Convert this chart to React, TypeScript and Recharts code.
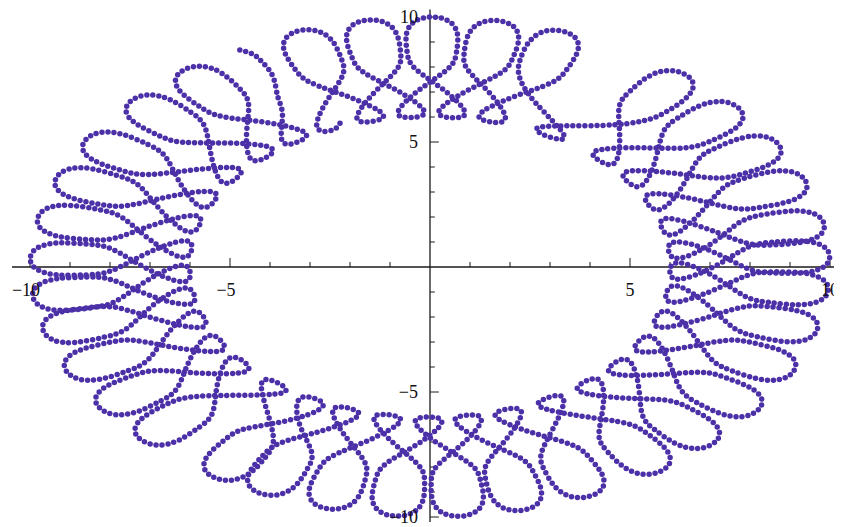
import React from 'react';
import { LineChart, Line, XAxis, YAxis, ReferenceLine, ReferenceDot } from 'recharts';

// Sampled curve, stored in polar form: angle in degrees (measured continuously
// along the path, so it can exceed 360) and distance from the origin.
// One row per outer loop; the first row is the open end near the top left.
const pathAngle = [
  118.7, 117.5, 117.1, 117.3, 119.2, 121.3, 126.25, 123.25, 120.25,
  125.4, 130.8, 131.9, 131.7, 130.2, 127.8, 125.4, 123.9, 123.7, 124.8, 130.2, 135.95, 132.95, 129.95,
  135.7, 141.1, 142.2, 142.0, 140.5, 138.1, 135.7, 134.2, 134.0, 135.1, 140.5, 146.7, 143.7, 140.7,
  146.9, 152.3, 153.4, 153.2, 151.7, 149.3, 146.9, 145.4, 145.2, 146.3, 151.7, 157.15, 154.15, 151.15,
  156.6, 162.0, 163.1, 162.9, 161.4, 159.0, 156.6, 155.1, 154.9, 156.0, 161.4, 166.8, 163.8, 160.8,
  166.2, 171.6, 172.7, 172.5, 171.0, 168.6, 166.2, 164.7, 164.5, 165.6, 171.0, 176.3, 173.3, 170.3,
  175.6, 181.0, 182.1, 181.9, 180.4, 178.0, 175.6, 174.1, 173.9, 175.0, 180.4, 185.4, 182.4, 179.4,
  184.4, 189.8, 190.9, 190.7, 189.2, 186.8, 184.4, 182.9, 182.7, 183.8, 189.2, 193.85, 190.85, 187.85,
  192.5, 197.9, 199.0, 198.8, 197.3, 194.9, 192.5, 191.0, 190.8, 191.9, 197.3, 202.8, 199.8, 196.8,
  202.3, 207.7, 208.8, 208.6, 207.1, 204.7, 202.3, 200.8, 200.6, 201.7, 207.1, 212.55, 209.55, 206.55,
  212.0, 217.4, 218.5, 218.3, 216.8, 214.4, 212.0, 210.5, 210.3, 211.4, 216.8, 222.15, 219.15, 216.15,
  221.5, 226.9, 228.0, 227.8, 226.3, 223.9, 221.5, 220.0, 219.8, 220.9, 226.3, 233.7, 230.7, 227.7,
  235.1, 240.5, 241.6, 241.4, 239.9, 237.5, 235.1, 233.6, 233.4, 234.5, 239.9, 244.3, 241.3, 238.3,
  242.7, 248.1, 249.2, 249.0, 247.5, 245.1, 242.7, 241.2, 241.0, 242.1, 247.5, 253.1, 250.1, 247.1,
  252.7, 258.1, 259.2, 259.0, 257.5, 255.1, 252.7, 251.2, 251.0, 252.1, 257.5, 263.05, 260.05, 257.05,
  262.6, 268.0, 269.1, 268.9, 267.4, 265.0, 262.6, 261.1, 260.9, 262.0, 267.4, 272.65, 269.65, 266.65,
  271.9, 277.3, 278.4, 278.2, 276.7, 274.3, 271.9, 270.4, 270.2, 271.3, 276.7, 281.85, 278.85, 275.85,
  281.0, 286.4, 287.5, 287.3, 285.8, 283.4, 281.0, 279.5, 279.3, 280.4, 285.8, 291.45, 288.45, 285.45,
  291.1, 296.5, 297.6, 297.4, 295.9, 293.5, 291.1, 289.6, 289.4, 290.5, 295.9, 302.3, 299.3, 296.3,
  302.7, 308.1, 309.2, 309.0, 307.5, 305.1, 302.7, 301.2, 301.0, 302.1, 307.5, 313.0, 310.0, 307.0,
  312.5, 317.9, 319.0, 318.8, 317.3, 314.9, 312.5, 311.0, 310.8, 311.9, 317.3, 322.95, 319.95, 316.95,
  322.6, 328.0, 329.1, 328.9, 327.4, 325.0, 322.6, 321.1, 320.9, 322.0, 327.4, 333.15, 330.15, 327.15,
  332.9, 338.3, 339.4, 339.2, 337.7, 335.3, 332.9, 331.4, 331.2, 332.3, 337.7, 343.3, 340.3, 337.3,
  342.9, 348.3, 349.4, 349.2, 347.7, 345.3, 342.9, 341.4, 341.2, 342.3, 347.7, 352.95, 349.95, 346.95,
  352.2, 357.6, 358.7, 358.5, 357.0, 354.6, 352.2, 350.7, 350.5, 351.6, 357.0, 361.55, 358.55, 355.55,
  360.1, 365.5, 366.6, 366.4, 364.9, 362.5, 360.1, 358.6, 358.4, 359.5, 364.9, 369.25, 366.25, 363.25,
  367.6, 373.0, 374.1, 373.9, 372.4, 370.0, 367.6, 366.1, 365.9, 367.0, 372.4, 378.1, 375.1, 372.1,
  377.8, 383.2, 384.3, 384.1, 382.6, 380.2, 377.8, 376.3, 376.1, 377.2, 382.6, 387.9, 384.9, 381.9,
  387.2, 392.6, 393.7, 393.5, 392.0, 389.6, 387.2, 385.7, 385.5, 386.6, 392.0, 397.7, 394.7, 391.7,
  397.4, 402.8, 403.9, 403.7, 402.2, 399.8, 397.4, 395.9, 395.7, 396.8, 402.2, 408.15, 405.15, 402.15,
  408.1, 413.5, 414.6, 414.4, 412.9, 410.5, 408.1, 406.6, 406.4, 407.5, 412.9, 423.6, 420.6, 417.6,
  428.3, 433.7, 434.8, 434.6, 433.1, 430.7, 428.3, 426.8, 426.6, 427.7, 433.1, 438.45, 435.45, 432.45,
  437.8, 443.2, 444.3, 444.1, 442.6, 440.2, 437.8, 436.3, 436.1, 437.2, 442.6, 447.95, 444.95, 441.95,
  447.3, 452.7, 453.8, 453.6, 452.1, 449.7, 447.3, 445.8, 445.6, 446.7, 452.1, 457.35, 454.35, 451.35,
  456.6, 462.0, 463.1, 462.9, 461.4, 459.0, 456.6, 455.1, 454.9, 456.0, 461.4, 467.0, 464.0, 461.0,
  466.6, 472.0, 473.1, 472.9, 471.4, 469.0, 466.6, 465.1, 464.9, 466.0, 471.4, 476.85, 473.85, 470.85,
];

const pathRadius = [
  9.9, 9.6, 9.2, 8.55, 7.8, 7.1, 6.25, 6.0, 6.25,
  /* 01 */ 7.1, 7.95, 8.6, 9.35, 9.85, 10, 9.85, 9.35, 8.6, 7.95, 7.1, 6.25, 6.0, 6.25,
  /* 02 */ 7.1, 7.95, 8.6, 9.35, 9.85, 10, 9.85, 9.35, 8.6, 7.95, 7.1, 6.25, 6.0, 6.25,
  /* 03 */ 7.1, 7.95, 8.6, 9.35, 9.85, 10, 9.85, 9.35, 8.6, 7.95, 7.1, 6.25, 6.0, 6.25,
  /* 04 */ 7.1, 7.95, 8.6, 9.35, 9.85, 10, 9.85, 9.35, 8.6, 7.95, 7.1, 6.25, 6.0, 6.25,
  /* 05 */ 7.1, 7.95, 8.6, 9.35, 9.85, 10, 9.85, 9.35, 8.6, 7.95, 7.1, 6.25, 6.0, 6.25,
  /* 06 */ 7.1, 7.95, 8.6, 9.35, 9.85, 10, 9.85, 9.35, 8.6, 7.95, 7.1, 6.25, 6.0, 6.25,
  /* 07 */ 7.1, 7.95, 8.6, 9.35, 9.85, 10, 9.85, 9.35, 8.6, 7.95, 7.1, 6.25, 6.0, 6.25,
  /* 08 */ 7.1, 7.95, 8.6, 9.35, 9.85, 10, 9.85, 9.35, 8.6, 7.95, 7.1, 6.25, 6.0, 6.25,
  /* 09 */ 7.1, 7.95, 8.6, 9.35, 9.85, 10, 9.85, 9.35, 8.6, 7.95, 7.1, 6.25, 6.0, 6.25,
  /* 10 */ 7.1, 7.95, 8.6, 9.35, 9.85, 10, 9.85, 9.35, 8.6, 7.95, 7.1, 6.25, 6.0, 6.25,
  /* 11 */ 7.1, 7.95, 8.6, 9.35, 9.85, 10, 9.85, 9.35, 8.6, 7.95, 7.1, 6.25, 6.0, 6.25,
  /* 12 */ 7.1, 7.95, 8.6, 9.35, 9.85, 10, 9.85, 9.35, 8.6, 7.95, 7.1, 6.25, 6.0, 6.25,
  /* 13 */ 7.1, 7.95, 8.6, 9.35, 9.85, 10, 9.85, 9.35, 8.6, 7.95, 7.1, 6.25, 6.0, 6.25,
  /* 14 */ 7.1, 7.95, 8.6, 9.35, 9.85, 10, 9.85, 9.35, 8.6, 7.95, 7.1, 6.25, 6.0, 6.25,
  /* 15 */ 7.1, 7.95, 8.6, 9.35, 9.85, 10, 9.85, 9.35, 8.6, 7.95, 7.1, 6.25, 6.0, 6.25,
  /* 16 */ 7.1, 7.95, 8.6, 9.35, 9.85, 10, 9.85, 9.35, 8.6, 7.95, 7.1, 6.25, 6.0, 6.25,
  /* 17 */ 7.1, 7.95, 8.6, 9.35, 9.85, 10, 9.85, 9.35, 8.6, 7.95, 7.1, 6.25, 6.0, 6.25,
  /* 18 */ 7.1, 7.95, 8.6, 9.35, 9.85, 10, 9.85, 9.35, 8.6, 7.95, 7.1, 6.25, 6.0, 6.25,
  /* 19 */ 7.1, 7.95, 8.6, 9.35, 9.85, 10, 9.85, 9.35, 8.6, 7.95, 7.1, 6.25, 6.0, 6.25,
  /* 20 */ 7.1, 7.95, 8.6, 9.35, 9.85, 10, 9.85, 9.35, 8.6, 7.95, 7.1, 6.25, 6.0, 6.25,
  /* 21 */ 7.1, 7.95, 8.6, 9.35, 9.85, 10, 9.85, 9.35, 8.6, 7.95, 7.1, 6.25, 6.0, 6.25,
  /* 22 */ 7.1, 7.95, 8.6, 9.35, 9.85, 10, 9.85, 9.35, 8.6, 7.95, 7.1, 6.25, 6.0, 6.25,
  /* 23 */ 7.1, 7.95, 8.6, 9.35, 9.85, 10, 9.85, 9.35, 8.6, 7.95, 7.1, 6.25, 6.0, 6.25,
  /* 24 */ 7.1, 7.95, 8.6, 9.35, 9.85, 10, 9.85, 9.35, 8.6, 7.95, 7.1, 6.25, 6.0, 6.25,
  /* 25 */ 7.1, 7.95, 8.6, 9.35, 9.85, 10, 9.85, 9.35, 8.6, 7.95, 7.1, 6.25, 6.0, 6.25,
  /* 26 */ 7.1, 7.95, 8.6, 9.35, 9.85, 10, 9.85, 9.35, 8.6, 7.95, 7.1, 6.25, 6.0, 6.25,
  /* 27 */ 7.1, 7.95, 8.6, 9.35, 9.85, 10, 9.85, 9.35, 8.6, 7.95, 7.1, 6.25, 6.0, 6.25,
  /* 28 */ 7.1, 7.95, 8.6, 9.35, 9.85, 10, 9.85, 9.35, 8.6, 7.95, 7.1, 6.25, 6.0, 6.25,
  /* 29 */ 7.1, 7.95, 8.6, 9.35, 9.85, 10, 9.85, 9.35, 8.6, 7.95, 7.1, 6.25, 6.0, 6.25,
  /* 30 */ 7.1, 7.95, 8.6, 9.35, 9.85, 10, 9.85, 9.35, 8.6, 7.95, 7.1, 6.25, 6.0, 6.25,
  /* 31 */ 7.1, 7.95, 8.6, 9.35, 9.85, 10, 9.85, 9.35, 8.6, 7.95, 7.1, 6.25, 6.0, 6.25,
  /* 32 */ 7.1, 7.95, 8.6, 9.35, 9.85, 10, 9.85, 9.35, 8.6, 7.95, 7.1, 6.25, 6.0, 6.25,
  /* 33 */ 7.1, 7.95, 8.6, 9.35, 9.85, 10, 9.85, 9.35, 8.6, 7.95, 7.1, 6.25, 6.0, 6.25,
  /* 34 */ 7.1, 7.95, 8.6, 9.35, 9.85, 10, 9.85, 9.35, 8.6, 7.95, 7.1, 6.25, 6.0, 6.25,
  /* 35 */ 7.1, 7.95, 8.6, 9.35, 9.85, 10, 9.85, 9.35, 8.6, 7.95, 7.1, 6.25, 6.0, 6.25,
];

// Axis ticks (every unit) and the labelled ones.
const xTickValues = [-10, -9, -8, -7, -6, -5, -4, -3, -2, -1, 1, 2, 3, 4, 5, 6, 7, 8, 9, 10];
const yTickValues = [-10, -9, -8, -7, -6, -5, -4, -3, -2, -1, 1, 2, 3, 4, 5, 6, 7, 8, 9, 10];
const majorTicks = [-10, -5, 5, 10];
const xTickLabels = ['\u221210', '\u22125', '5', '10'];
const yTickLabels = ['\u221210', '\u22125', '5', '10'];

const X_DOMAIN: [number, number] = [-10.5, 10.3];
const Y_DOMAIN: [number, number] = [-10.36, 10.32];

const DOT_COLOR = '#4b30a8';
const AXIS_COLOR = '#1a1a1a';
const LABEL_FONT = '"Liberation Serif", "DejaVu Serif", serif';

const pointCount = Math.min(pathAngle.length, pathRadius.length);
const chartData = pathAngle.slice(0, pointCount).map((deg, i) => {
  const a = (deg * Math.PI) / 180;
  return { x: pathRadius[i] * Math.cos(a), y: pathRadius[i] * Math.sin(a) };
});

export default function App() {
  return (
    <div style={{ width: 834, height: 519, background: '#fff' }}>
      <LineChart
        width={834}
        height={519}
        data={chartData}
        margin={{ top: 1, right: 0, bottom: 1, left: 2 }}
      >
        <XAxis type="number" dataKey="x" domain={X_DOMAIN} allowDataOverflow hide />
        <YAxis type="number" dataKey="y" domain={Y_DOMAIN} allowDataOverflow hide />

        {/* axes through the origin */}
        <ReferenceLine
          segment={[{ x: -10.45, y: 0 }, { x: 10.22, y: 0 }]}
          stroke={AXIS_COLOR}
          strokeWidth={1.3}
          ifOverflow="visible"
        />
        <ReferenceLine
          segment={[{ x: 0, y: -10.2 }, { x: 0, y: 10.3 }]}
          stroke={AXIS_COLOR}
          strokeWidth={1.3}
          ifOverflow="visible"
        />

        {xTickValues.map((v) => (
          <ReferenceLine
            key={`xt${v}`}
            segment={[{ x: v, y: 0 }, { x: v, y: majorTicks.includes(v) ? 0.36 : 0.2 }]}
            stroke={AXIS_COLOR}
            strokeWidth={1}
            ifOverflow="visible"
          />
        ))}
        {yTickValues.map((v) => (
          <ReferenceLine
            key={`yt${v}`}
            segment={[{ x: 0, y: v }, { x: majorTicks.includes(v) ? 0.22 : 0.12, y: v }]}
            stroke={AXIS_COLOR}
            strokeWidth={1}
            ifOverflow="visible"
          />
        ))}

        <Line
          type="natural"
          dataKey="y"
          stroke={DOT_COLOR}
          strokeWidth={5.5}
          strokeDasharray="0 6"
          strokeLinecap="round"
          dot={false}
          activeDot={false}
          isAnimationActive={false}
        />

        {majorTicks.map((v, i) => (
          <ReferenceDot
            key={`xl${v}`}
            x={v}
            y={0}
            r={0}
            ifOverflow="visible"
            shape={(p: any) => (
              <text
                x={p.cx + (v < 0 ? -4 : 0)}
                y={p.cy + 29}
                textAnchor="middle"
                fontFamily={LABEL_FONT}
                fontSize={18}
                fill="#111"
              >
                {xTickLabels[i]}
              </text>
            )}
          />
        ))}
        {majorTicks.map((v, i) => (
          <ReferenceDot
            key={`yl${v}`}
            x={0}
            y={v}
            r={0}
            ifOverflow="visible"
            shape={(p: any) => (
              <text
                x={p.cx - 12}
                y={p.cy + 6}
                textAnchor="end"
                fontFamily={LABEL_FONT}
                fontSize={18}
                fill="#111"
              >
                {yTickLabels[i]}
              </text>
            )}
          />
        ))}
      </LineChart>
    </div>
  );
}
